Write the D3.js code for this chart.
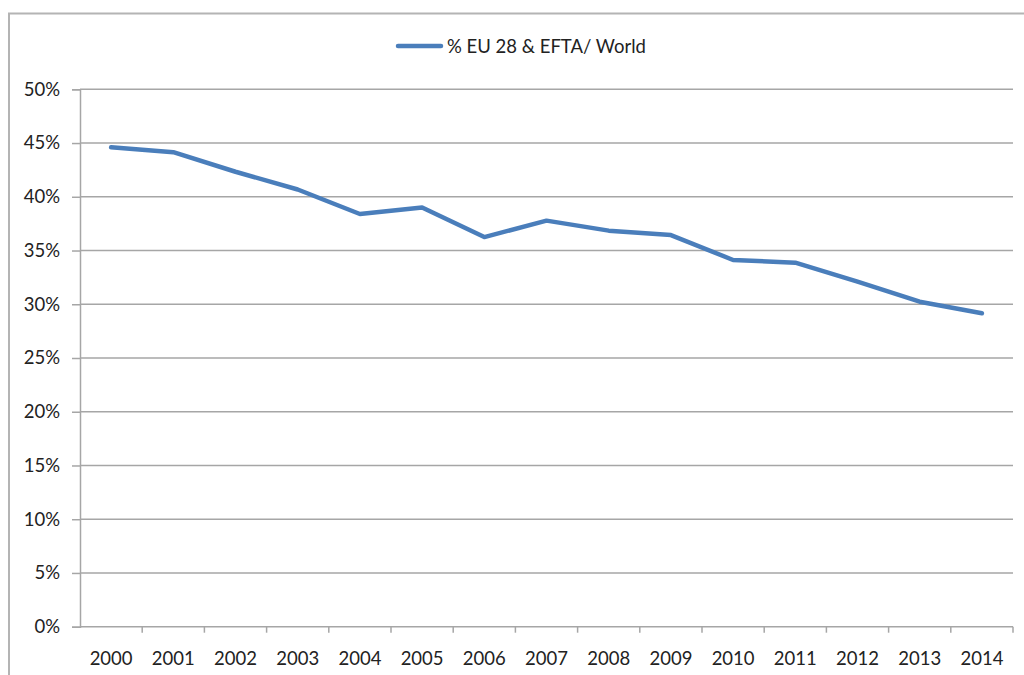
<!DOCTYPE html>
<html>
<head>
<meta charset="utf-8">
<script src="https://cdn.jsdelivr.net/npm/d3@7"></script>
<style>
  html, body { margin: 0; padding: 0; background: #fff; }
  svg { display: block; }
  text { font-family: Lato, "Open Sans", sans-serif; fill: #222; }
</style>
</head>
<body>
<svg id="chart" width="1024" height="675"></svg>
<script>
// Share of EU 28 & EFTA in world total, 2000–2014
const years = ["2000","2001","2002","2003","2004","2005","2006","2007","2008","2009","2010","2011","2012","2013","2014"];
const shareValues = [0.446, 0.4415, 0.4233, 0.4068, 0.384, 0.390, 0.3625, 0.3778, 0.3685, 0.3644, 0.3412, 0.3387, 0.321, 0.3024, 0.2916];
const yTicks = [0, 0.05, 0.10, 0.15, 0.20, 0.25, 0.30, 0.35, 0.40, 0.45, 0.50];
const seriesName = "% EU 28 & EFTA/ World";

const svg = d3.select("#chart");
const plot = { left: 80, right: 1013, top: 89.3, bottom: 626.7 };
const fontSize = 18.5;

// outer chart frame
svg.append("rect")
  .attr("x", 9).attr("y", 13.5)
  .attr("width", 1040).attr("height", 700)
  .attr("fill", "none").attr("stroke", "#b4b4b4").attr("stroke-width", 2);

const x = d3.scaleBand().domain(years).range([plot.left, plot.right]);
const y = d3.scaleLinear().domain([0, 0.5]).range([plot.bottom, plot.top]);

// horizontal gridlines
svg.append("g").selectAll("line").data(yTicks.filter(d => d > 0)).join("line")
  .attr("x1", plot.left).attr("x2", plot.right)
  .attr("y1", d => y(d)).attr("y2", d => y(d))
  .attr("stroke", "#a6a6a6").attr("stroke-width", 1.5);

// y axis
const yAxis = svg.append("g")
  .attr("transform", `translate(${plot.left},0)`)
  .call(d3.axisLeft(y).tickValues(yTicks).tickFormat(d3.format(".0%")).tickSize(8).tickPadding(12));
yAxis.select(".domain").attr("stroke", "#a6a6a6").attr("stroke-width", 1.5);
yAxis.selectAll(".tick line").attr("stroke", "#a6a6a6").attr("stroke-width", 1.5);
yAxis.selectAll(".tick text").attr("font-size", fontSize).attr("fill", "#222")
  .attr("font-family", "Lato, 'Open Sans', sans-serif");

// x axis: ticks sit between categories
const xAxisG = svg.append("g");
xAxisG.append("line")
  .attr("x1", plot.left).attr("x2", plot.right)
  .attr("y1", plot.bottom).attr("y2", plot.bottom)
  .attr("stroke", "#a6a6a6").attr("stroke-width", 1.5);
const boundaries = years.map(d => x(d) + x.bandwidth());
xAxisG.selectAll("line.tk").data(boundaries).join("line").attr("class", "tk")
  .attr("x1", d => d).attr("x2", d => d)
  .attr("y1", plot.bottom).attr("y2", plot.bottom + 6)
  .attr("stroke", "#a6a6a6").attr("stroke-width", 1.5);
xAxisG.selectAll("text").data(years).join("text")
  .attr("x", d => x(d) + x.bandwidth() / 2)
  .attr("y", 665)
  .attr("text-anchor", "middle")
  .attr("font-size", fontSize)
  .text(d => d);

// series line
const line = d3.line()
  .x((d, i) => x(years[i]) + x.bandwidth() / 2)
  .y(d => y(d));
svg.append("path")
  .datum(shareValues)
  .attr("d", line)
  .attr("fill", "none")
  .attr("stroke", "#4a7ebb")
  .attr("stroke-width", 4.5)
  .attr("stroke-linejoin", "round")
  .attr("stroke-linecap", "round");

// legend
const legend = svg.append("g");
legend.append("line")
  .attr("x1", 398).attr("x2", 441).attr("y1", 46).attr("y2", 46)
  .attr("stroke", "#4a7ebb").attr("stroke-width", 4.5).attr("stroke-linecap", "round");
legend.append("text")
  .attr("x", 447).attr("y", 52.5)
  .attr("font-size", fontSize)
  .text(seriesName);
</script>
</body>
</html>
